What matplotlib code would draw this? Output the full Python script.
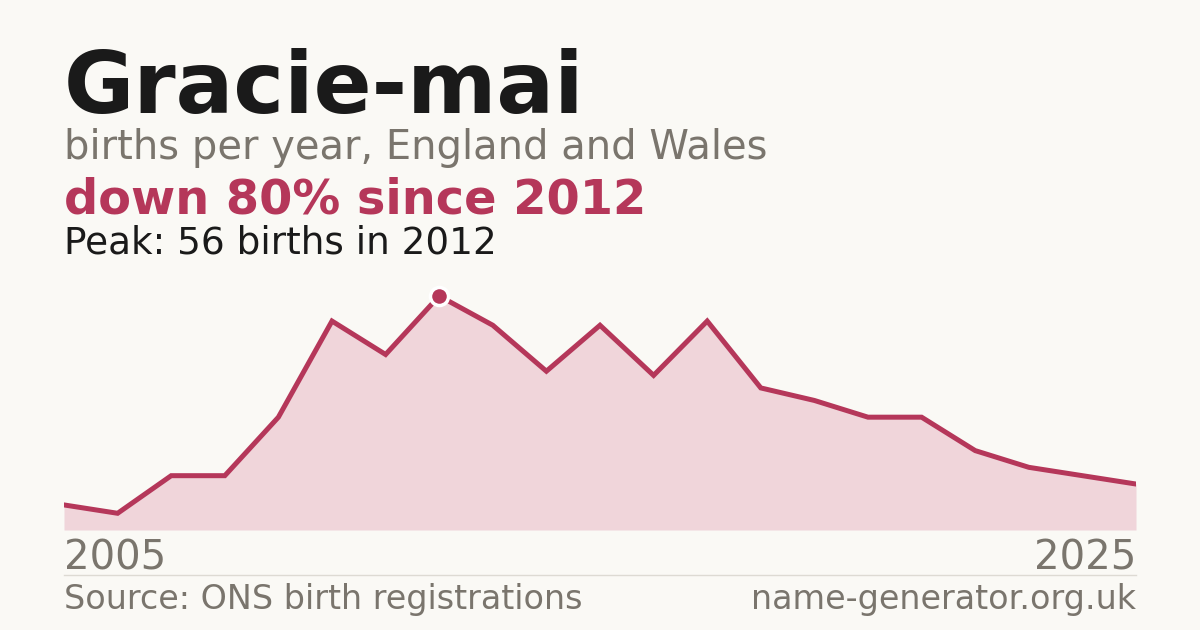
import numpy as np
import matplotlib.pyplot as plt
from matplotlib.lines import Line2D

# Дані: народження на рік
years = list(range(2005, 2026))
births = [6, 4, 13, 13, 27, 50, 42, 56, 49, 38, 49, 37, 50, 34, 31, 27, 27, 19, 15, 13, 11]

name = "Gracie-mai"
subtitle = "births per year, England and Wales"
change_text = "down 80% since 2012"
source_text = "Source: ONS birth registrations"
site_text = "name-generator.org.uk"

bg = "#faf9f5"
red = "#b5375a"
fill = "#f0d5da"
grey = "#7a756d"
dark = "#1a1a1a"

W, H = 1200, 630
fig = plt.figure(figsize=(12, 6.3), dpi=100, facecolor=bg)


def fx(px):
    return px / W


def fy(py):
    return 1 - py / H


# Область графіка
left, right, bottom, top = 64, 1136, 530, 296
ax = fig.add_axes([fx(left), fy(bottom), fx(right - left), (bottom - top) / H])
ax.set_facecolor(bg)
peak_i = int(np.argmax(births))
ax.fill_between(years, births, 0, color=fill, linewidth=0)
ax.plot(years, births, color=red, linewidth=3.6, solid_joinstyle="miter")
ax.plot(years[peak_i], births[peak_i], "o", color=red, markersize=13,
        markeredgecolor="white", markeredgewidth=2.5, clip_on=False, zorder=5)
ax.set_xlim(years[0], years[-1])
ax.set_ylim(0, max(births))
ax.axis("off")

# Тексти
fig.text(fx(64), fy(113), name, fontsize=61.7, fontweight="bold", color=dark, va="baseline")
fig.text(fx(64), fy(159), subtitle, fontsize=28.8, color=grey, va="baseline")
fig.text(fx(64), fy(214), change_text, fontsize=34.5, fontweight="bold", color=red, va="baseline")
fig.text(fx(64), fy(253), f"Peak: {births[peak_i]} births in {years[peak_i]}",
         fontsize=26.9, color=dark, va="baseline")
fig.text(fx(64), fy(570), str(years[0]), fontsize=28.9, color=grey, va="baseline")
fig.text(fx(1136), fy(570), str(years[-1]), fontsize=28.9, color=grey, va="baseline", ha="right")
fig.add_artist(Line2D([fx(64), fx(1136)], [fy(574.5), fy(574.5)], color="#dddad3", linewidth=1))
fig.text(fx(64), fy(609), source_text, fontsize=24, color=grey, va="baseline")
fig.text(fx(1136), fy(609), site_text, fontsize=24, color=grey, va="baseline", ha="right")

fig.savefig("out.png", dpi=100, facecolor=bg)
